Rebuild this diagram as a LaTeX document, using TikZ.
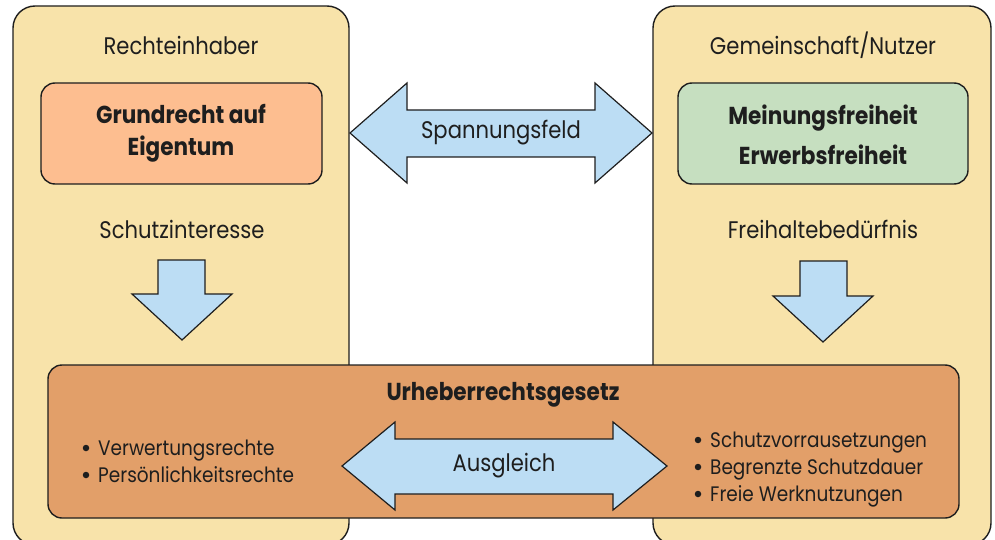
\documentclass[tikz,border=0pt]{standalone}
\usepackage{fontspec}
\setmainfont{Poppins}[FakeStretch=0.88]
\definecolor{boxyellow}{HTML}{F8E3AA}
\definecolor{salmon}{HTML}{FDBE90}
\definecolor{palegreen}{HTML}{C6DFC0}
\definecolor{copper}{HTML}{E29F69}
\definecolor{skyblue}{HTML}{BCDDF4}
\definecolor{ink}{HTML}{1E1E1E}
\tikzset{
  bigbox/.style={draw=ink, line width=1.4pt, fill=boxyellow, rounded corners=22pt},
  innerbox/.style={draw=ink, line width=1.4pt, rounded corners=14pt},
  blockarrow/.style={draw=ink, line width=1.2pt, fill=skyblue, line join=miter},
  lbl/.style={font=\fontsize{24}{28}\selectfont, text=ink, inner sep=0pt},
  bold/.style={font=\fontsize{24.5}{32}\selectfont\bfseries, text=ink, inner sep=0pt, align=center},
  item/.style={font=\fontsize{21}{27}\selectfont, text=ink, inner sep=0pt, anchor=base west},
  dot/.style={circle, fill=ink, inner sep=0pt, minimum size=6.5pt}
}
\begin{document}
\begin{tikzpicture}[x=1pt,y=-1pt]
\useasboundingbox (0,0) rectangle (995,540);
\clip (0,0) rectangle (995,540);
% big boxes
\draw[bigbox] (13,6) rectangle (349,545);
\draw[bigbox] (653,6) rectangle (991,545);
% titles
\node[lbl] (rechte) at (181,45) {Rechteinhaber};
\node[lbl] (gemein) at (823,45) {Gemeinschaft/Nutzer};
% inner boxes
\draw[innerbox, fill=salmon] (41,83) rectangle (322,184);
\node[bold, font=\fontsize{24.5}{32}\selectfont\bfseries] (grund) at (181,133) {Grundrecht auf\\Eigentum};
\draw[innerbox, fill=palegreen] (678,83) rectangle (968,184);
\node[bold, font=\fontsize{24.5}{40}\selectfont\bfseries] (meinung) at (823,135) {Meinungsfreiheit\\Erwerbsfreiheit};
% Spannungsfeld arrow
\draw[blockarrow] (350,133) -- (407,83) -- (407,110) -- (595,110) -- (595,83) -- (652,133)
  -- (595,183) -- (595,157) -- (407,157) -- (407,183) -- cycle;
\node[lbl] (spann) at (501,133) {Spannungsfeld};
% interests
\node[lbl] (schutz) at (182,229) {Schutzinteresse};
\node[lbl] (frei) at (823,229) {Freihaltebedürfnis};
% down arrows
\draw[blockarrow] (158,260) -- (205,260) -- (205,294) -- (232,294) -- (182,340) -- (132,294) -- (158,294) -- cycle;
\draw[blockarrow] (800,261) -- (847,261) -- (847,296) -- (873,296) -- (823,342) -- (773,296) -- (800,296) -- cycle;
% law box
\draw[innerbox, fill=copper] (48,365) rectangle (959,518);
\node[bold] (urg) at (503,395) {Urheberrechtsgesetz};
% Ausgleich arrow
\draw[blockarrow] (342,466) -- (395,422) -- (395,439) -- (613,439) -- (613,422) -- (667,466)
  -- (613,510) -- (613,494) -- (395,494) -- (395,510) -- cycle;
\node[lbl] (ausgl) at (504,466) {Ausgleich};
% bullets left
\node[item] (l1) at (98,455) {Verwertungsrechte};
\node[item] (l2) at (98,482) {Persönlichkeitsrechte};
\node[dot] at (86,448) {};
\node[dot] at (86,475) {};
% bullets right
\node[item] (r1) at (710,447) {Schutzvorrausetzungen};
\node[item] (r2) at (710,474) {Begrenzte Schutzdauer};
\node[item] (r3) at (710,501) {Freie Werknutzungen};
\node[dot] at (698,440) {};
\node[dot] at (698,467) {};
\node[dot] at (698,494) {};
\end{tikzpicture}
\end{document}
